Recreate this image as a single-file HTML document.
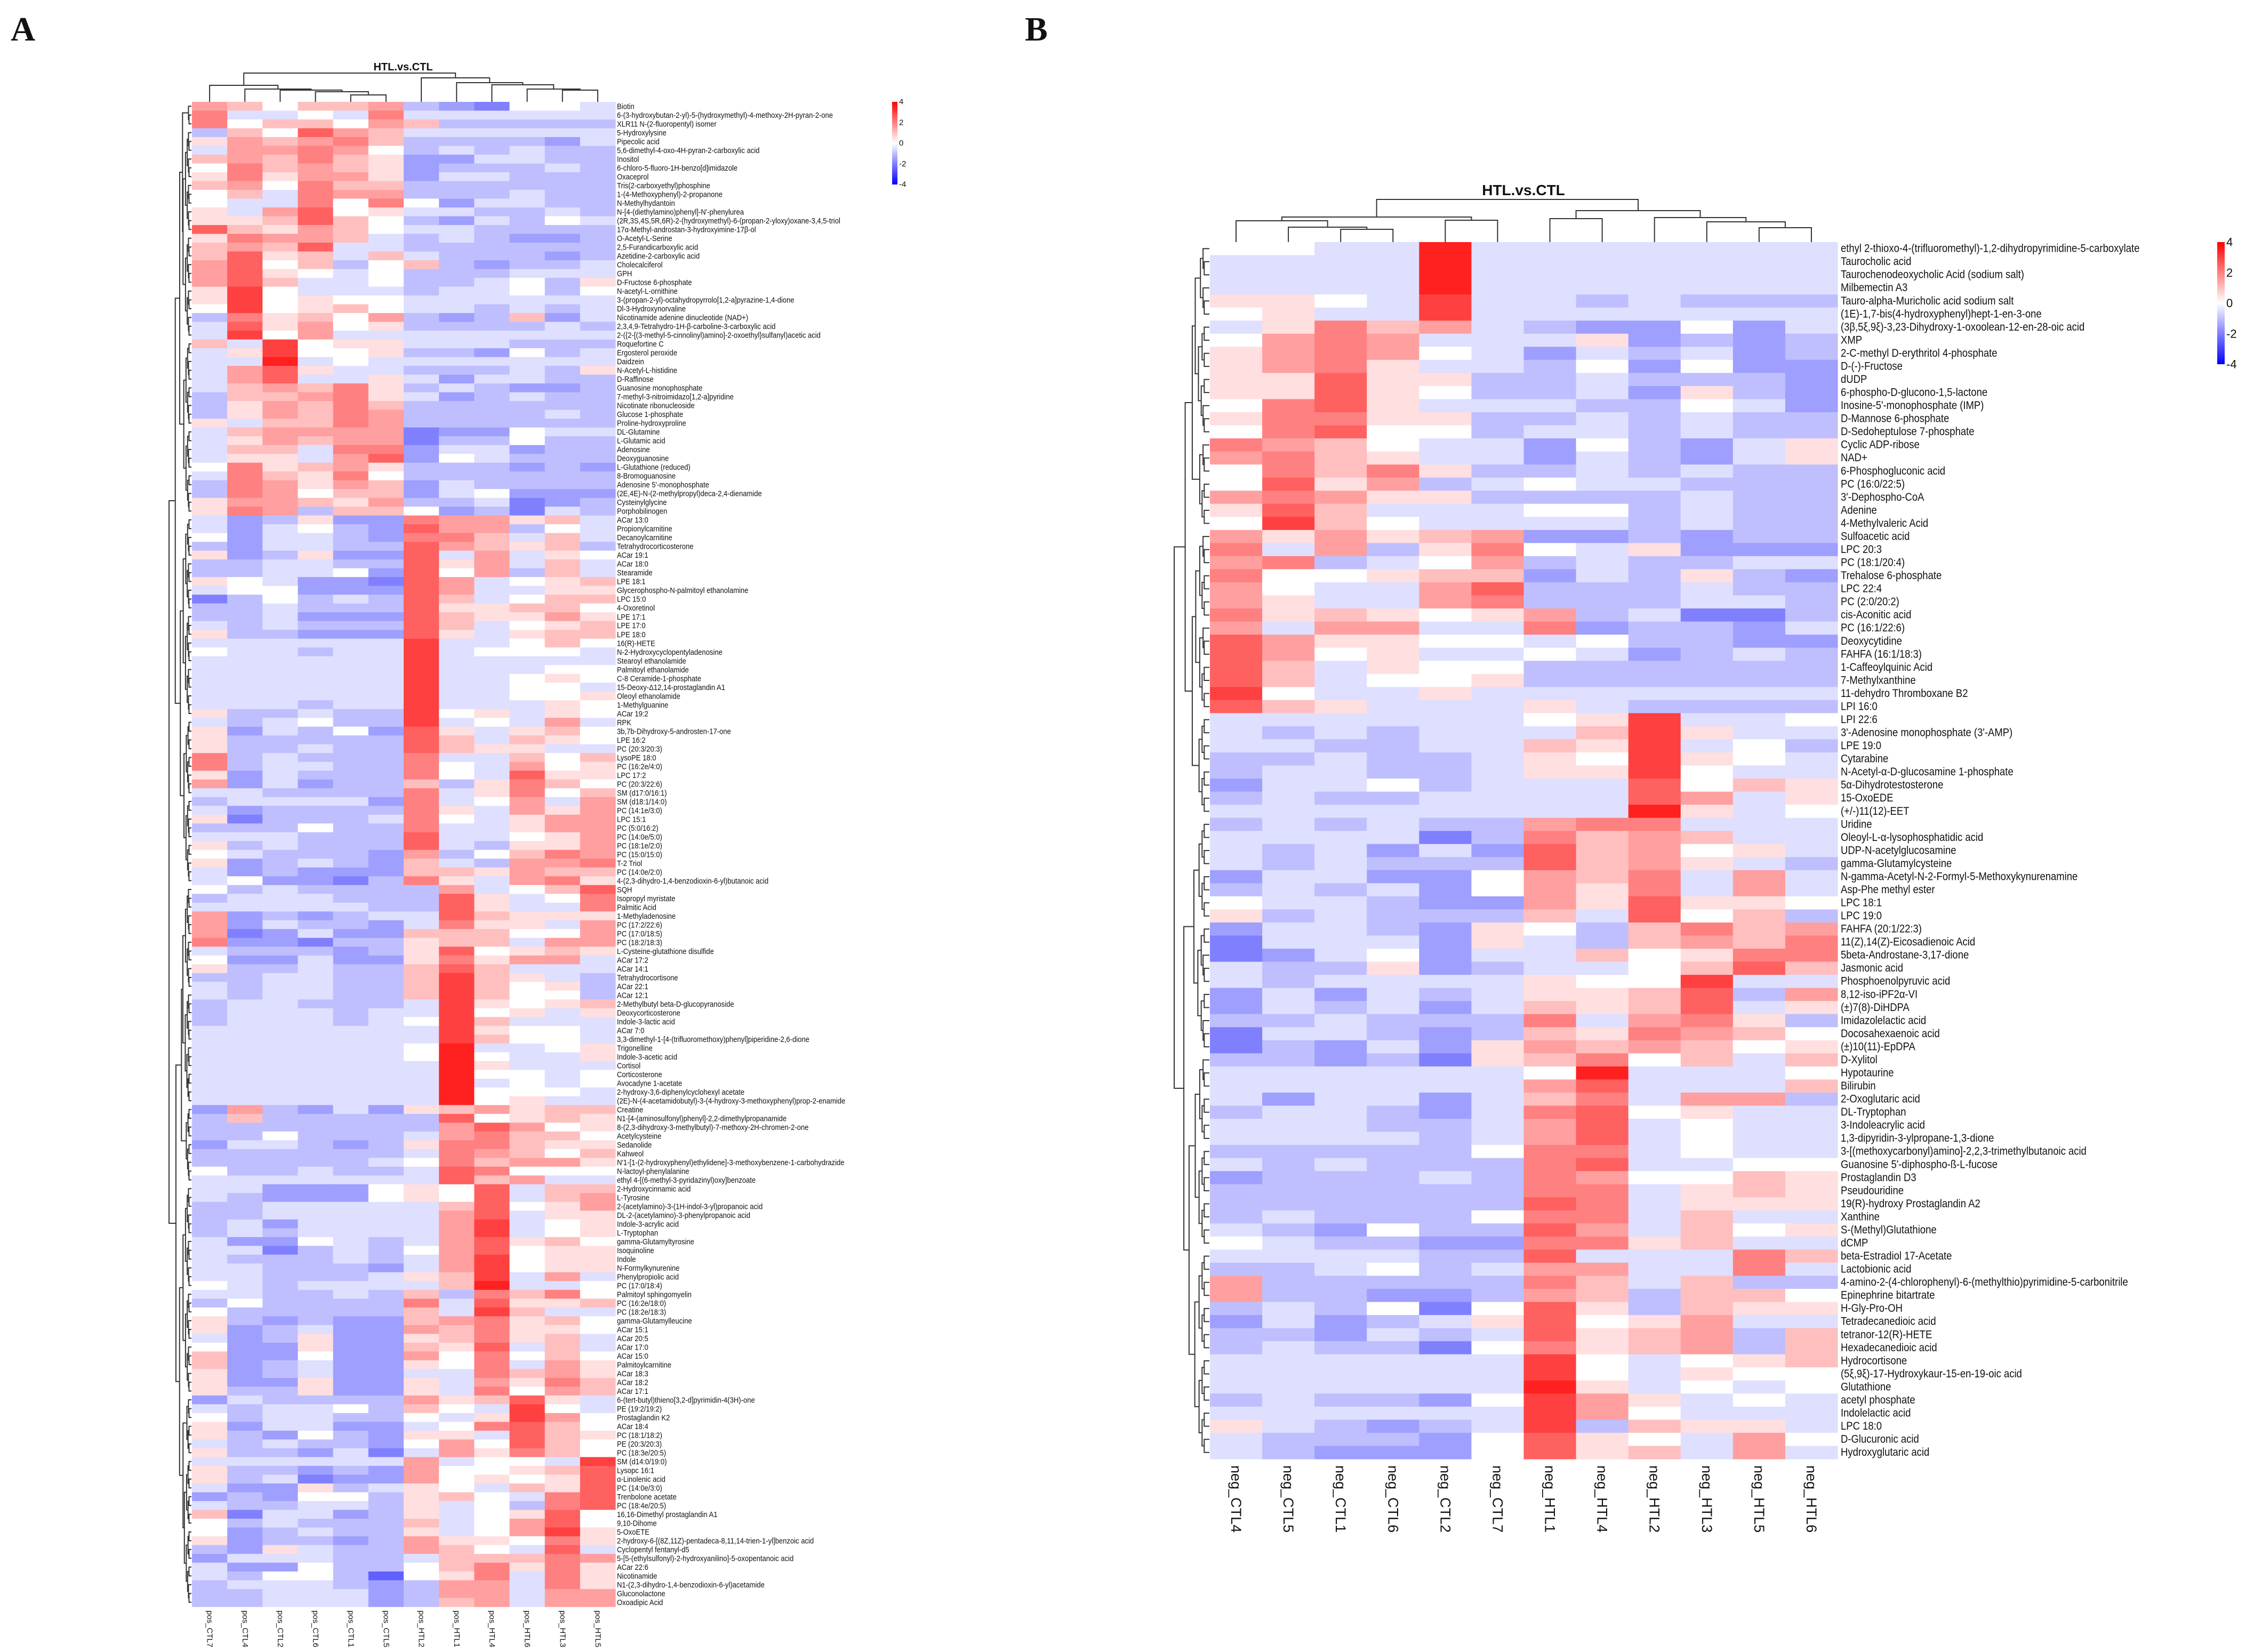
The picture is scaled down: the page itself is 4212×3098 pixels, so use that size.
<!DOCTYPE html>
<html><head><meta charset="utf-8"><title>HTL.vs.CTL heatmaps</title>
<style>
html,body{margin:0;padding:0;background:#fff;}
svg{display:block;}
text{font-family:"Liberation Sans",Arial,sans-serif;fill:#111;}
</style></head>
<body>
<svg id="fig" width="4212" height="3098" viewBox="0 0 4212 3098" xmlns="http://www.w3.org/2000/svg">
<rect width="4212" height="3098" fill="#fff"/>
<text x="20" y="76" font-family="Liberation Serif,serif" font-weight="bold" font-size="64" style="font-family:'Liberation Serif',serif">A</text>
<text x="1922" y="76" font-weight="bold" font-size="64" style="font-family:'Liberation Serif',serif">B</text>
<text x="756" y="132" text-anchor="middle" font-weight="bold" font-size="20">HTL.vs.CTL</text>
<text x="2857" y="366" text-anchor="middle" font-weight="bold" font-size="28">HTL.vs.CTL</text>
<defs>
<linearGradient id="lg" x1="0" y1="1" x2="0" y2="0">
<stop offset="0" stop-color="#0000ff"/><stop offset="0.5" stop-color="#ffffff"/><stop offset="1" stop-color="#ff0000"/>
</linearGradient>
</defs>
<g id="gA"></g>
<g id="gB"></g>
</svg>
<script>
const colsA=["pos_CTL7","pos_CTL4","pos_CTL2","pos_CTL6","pos_CTL1","pos_CTL5","pos_HTL2","pos_HTL1","pos_HTL4","pos_HTL6","pos_HTL3","pos_HTL5"];
const colsB=["neg_CTL4","neg_CTL5","neg_CTL1","neg_CTL6","neg_CTL2","neg_CTL7","neg_HTL1","neg_HTL4","neg_HTL2","neg_HTL3","neg_HTL5","neg_HTL6"];
const legendTicks=[4,2,0,-2,-4];
const colTreeA=[54,[31,0,[24,1,[22,2,[19,3,[13,4,5]]]]],[45,6,[36,7,[32,8,[24,9,[22,10,11]]]]]];
const colTreeB=[80,[47,[40,0,[28,1,[24,2,3]]],[41,4,5]],[59,[44,6,7],[46,8,[38,9,[27,10,11]]]]];
const rowBreaksA=[3,27,47,70,89,114,123,147,154,171];
const rowBreaksB=[6,15,22,36,44,52,62,77,85,93];
const rowsA=["Biotin","6-(3-hydroxybutan-2-yl)-5-(hydroxymethyl)-4-methoxy-2H-pyran-2-one","XLR11 N-(2-fluoropentyl) isomer","5-Hydroxylysine","Pipecolic acid","5,6-dimethyl-4-oxo-4H-pyran-2-carboxylic acid","Inositol","6-chloro-5-fluoro-1H-benzo[d]imidazole","Oxaceprol","Tris(2-carboxyethyl)phosphine","1-(4-Methoxyphenyl)-2-propanone","N-Methylhydantoin","N-[4-(diethylamino)phenyl]-N'-phenylurea","(2R,3S,4S,5R,6R)-2-(hydroxymethyl)-6-(propan-2-yloxy)oxane-3,4,5-triol","17\u03b1-Methyl-androstan-3-hydroxyimine-17\u03b2-ol","O-Acetyl-L-Serine","2,5-Furandicarboxylic acid","Azetidine-2-carboxylic acid","Cholecalciferol","GPH","D-Fructose 6-phosphate","N-acetyl-L-ornithine","3-(propan-2-yl)-octahydropyrrolo[1,2-a]pyrazine-1,4-dione","Dl-3-Hydroxynorvaline","Nicotinamide adenine dinucleotide (NAD+)","2,3,4,9-Tetrahydro-1H-\u03b2-carboline-3-carboxylic acid","2-({2-[(3-methyl-5-cinnolinyl)amino]-2-oxoethyl}sulfanyl)acetic acid","Roquefortine C","Ergosterol peroxide","Daidzein","N-Acetyl-L-histidine","D-Raffinose","Guanosine monophosphate","7-methyl-3-nitroimidazo[1,2-a]pyridine","Nicotinate ribonucleoside","Glucose 1-phosphate","Proline-hydroxyproline","DL-Glutamine","L-Glutamic acid","Adenosine","Deoxyguanosine","L-Glutathione (reduced)","8-Bromoguanosine","Adenosine 5'-monophosphate","(2E,4E)-N-(2-methylpropyl)deca-2,4-dienamide","Cysteinylglycine","Porphobilinogen","ACar 13:0","Propionylcarnitine","Decanoylcarnitine","Tetrahydrocorticosterone","ACar 19:1","ACar 18:0","Stearamide","LPE 18:1","Glycerophospho-N-palmitoyl ethanolamine","LPC 15:0","4-Oxoretinol","LPE 17:1","LPE 17:0","LPE 18:0","16(R)-HETE","N-2-Hydroxycyclopentyladenosine","Stearoyl ethanolamide","Palmitoyl ethanolamide","C-8 Ceramide-1-phosphate","15-Deoxy-\u039412,14-prostaglandin A1","Oleoyl ethanolamide","1-Methylguanine","ACar 19:2","RPK","3b,7b-Dihydroxy-5-androsten-17-one","LPE 16:2","PC (20:3/20:3)","LysoPE 18:0","PC (16:2e/4:0)","LPC 17:2","PC (20:3/22:6)","SM (d17:0/16:1)","SM (d18:1/14:0)","PC (14:1e/3:0)","LPC 15:1","PC (5:0/16:2)","PC (14:0e/5:0)","PC (18:1e/2:0)","PC (15:0/15:0)","T-2 Triol","PC (14:0e/2:0)","4-(2,3-dihydro-1,4-benzodioxin-6-yl)butanoic acid","SQH","Isopropyl myristate","Palmitic Acid","1-Methyladenosine","PC (17:2/22:6)","PC (17:0/18:5)","PC (18:2/18:3)","L-Cysteine-glutathione disulfide","ACar 17:2","ACar 14:1","Tetrahydrocortisone","ACar 22:1","ACar 12:1","2-Methylbutyl beta-D-glucopyranoside","Deoxycorticosterone","Indole-3-lactic acid","ACar 7:0","3,3-dimethyl-1-[4-(trifluoromethoxy)phenyl]piperidine-2,6-dione","Trigonelline","Indole-3-acetic acid","Cortisol","Corticosterone","Avocadyne 1-acetate","2-hydroxy-3,6-diphenylcyclohexyl acetate","(2E)-N-(4-acetamidobutyl)-3-(4-hydroxy-3-methoxyphenyl)prop-2-enamide","Creatine","N1-[4-(aminosulfonyl)phenyl]-2,2-dimethylpropanamide","8-(2,3-dihydroxy-3-methylbutyl)-7-methoxy-2H-chromen-2-one","Acetylcysteine","Sedanolide","Kahweol","N'1-[1-(2-hydroxyphenyl)ethylidene]-3-methoxybenzene-1-carbohydrazide","N-lactoyl-phenylalanine","ethyl 4-[(6-methyl-3-pyridazinyl)oxy]benzoate","2-Hydroxycinnamic acid","L-Tyrosine","2-(acetylamino)-3-(1H-indol-3-yl)propanoic acid","DL-2-(acetylamino)-3-phenylpropanoic acid","Indole-3-acrylic acid","L-Tryptophan","gamma-Glutamyltyrosine","Isoquinoline","Indole","N-Formylkynurenine","Phenylpropiolic acid","PC (17:0/18:4)","Palmitoyl sphingomyelin","PC (16:2e/18:0)","PC (18:2e/18:3)","gamma-Glutamylleucine","ACar 15:1","ACar 20:5","ACar 17:0","ACar 15:0","Palmitoylcarnitine","ACar 18:3","ACar 18:2","ACar 17:1","6-(tert-butyl)thieno[3,2-d]pyrimidin-4(3H)-one","PE (19:2/19:2)","Prostaglandin K2","ACar 18:4","PC (18:1/18:2)","PE (20:3/20:3)","PC (18:3e/20:5)","SM (d14:0/19:0)","Lysopc 16:1","\u03b1-Linolenic acid","PC (14:0e/3:0)","Trenbolone acetate","PC (18:4e/20:5)","16,16-Dimethyl prostaglandin A1","9,10-Dihome","5-OxoETE","2-hydroxy-6-[(8Z,11Z)-pentadeca-8,11,14-trien-1-yl]benzoic acid","Cyclopentyl fentanyl-d5","5-[5-(ethylsulfonyl)-2-hydroxyanilino]-5-oxopentanoic acid","ACar 22:6","Nicotinamide","N1-(2,3-dihydro-1,4-benzodioxin-6-yl)acetamide","Gluconolactone","Oxoadipic Acid"];
const valsA=[
[1.5,1,0,1,1,1.5,-1,-1.5,-2,0,0,-0.5],
[2,-0.5,-0.5,0,-0.5,2,-0.5,-0.5,-0.5,-0.5,-0.5,-0.5],
[2,0,1,1,0,1.5,1,-1,-1,-1,-1,-1],
[-1,1,0,2.5,1.5,1,-0.5,-0.5,-0.5,-0.5,-0.5,-0.5],
[0.5,1.5,1,1.5,2,1,-1,-1,-1,-1,-1.5,-0.5],
[-0.5,1.5,1.5,2,1.5,0,-1,-0.5,-1,-0.5,-1,-1],
[1,1.5,1,2,1,0.5,-1.5,-1.5,-0.5,-0.5,-1,-1],
[0,2,1,1.5,1,0.5,-1.5,-1,-1,-1,-0.5,-1],
[0.5,2,0.5,1.5,1.5,0.5,-1.5,-0.5,-0.5,-1,-1,-1],
[1,1.5,0,2,1,1,-1,-1,-1,-1,-1,-1],
[0,1,-0.5,2,1.5,1.5,-1,-1,-1,-0.5,-1,-1],
[0,-0.5,-0.5,2,0,2,0,-1.5,-0.5,-0.5,-1,-1],
[0.5,-0.5,1.5,2.5,0,0.5,-0.5,-0.5,-1,-1,-0.5,-1],
[0.5,0.5,1,2.5,1,0,-1,-1.5,-0.5,-1,0,-0.5],
[2.5,1,0.5,1.5,1,0,-0.5,-0.5,-1,-1,-1,-1],
[0.5,2,1.5,1.5,1,-0.5,-1,-0.5,-1,-1.5,-1.5,-1],
[1,1.5,1,2.5,-0.5,-0.5,-1,-1,-1,-1,-1,-1],
[1,2.5,0.5,1,-0.5,1,-0.5,-1,-1,-1,-1.5,-1],
[1.5,2.5,0,1,-1,0,1,-1,-1.5,-1,-1,-0.5],
[1.5,2.5,0.5,0,-0.5,0,-1,-1,-1,-0.5,-0.5,-0.5],
[1.5,2.5,1,-0.5,-0.5,0,-1,-1,-0.5,0,-1,0.5],
[0.5,3,0,-0.5,-0.5,-0.5,-1,-0.5,-0.5,0,-1,0],
[0.5,3,0,0.5,0,0,-0.5,-0.5,-0.5,-0.5,-0.5,-0.5],
[0,3,0,0.5,1,0,-0.5,-0.5,-1,-0.5,-1,-0.5],
[-1,2,0.5,1,0,1.5,-1,-1.5,-1,1,-1.5,-0.5],
[-0.5,2.5,0.5,1.5,0,0.5,-1,-1,-1,-1,-0.5,-1],
[-0.5,3,0,1.5,-0.5,-0.5,-0.5,-0.5,-0.5,-0.5,-0.5,-0.5],
[1,-0.5,3,0,0.5,0.5,-0.5,-0.5,-0.5,-1,-1,-1],
[-0.5,0.5,3,0,0,0.5,-1,-1,-1.5,0,-1,-0.5],
[-0.5,-0.5,3.5,-0.5,0,-0.5,-0.5,-0.5,-0.5,-0.5,-0.5,-0.5],
[-0.5,1.5,2.5,0.5,-0.5,-0.5,-1,-1,-1,-0.5,-1,0.5],
[-0.5,1.5,2.5,-0.5,-0.5,0.5,-0.5,-1.5,-0.5,-0.5,-1,-1],
[-0.5,1,1.5,1,2,0.5,-1,-0.5,-1,-1.5,-1.5,-1],
[-1,1,1,1.5,2,0.5,-0.5,-1.5,-1,-0.5,-1,-1],
[-1,0.5,1.5,1,2,1,-1,-1,-1,-1,-1,-1],
[-1,0.5,1.5,1,2,1.5,-1,-1,-1,-1,-0.5,-1],
[0.5,-0.5,1,1,2,1.5,-1,-1,-1,-1,-1,-1],
[-0.5,1,1.5,1.5,1.5,1.5,-2,-1.5,-1.5,0,-0.5,-0.5],
[-0.5,0.5,1.5,1,1.5,1.5,-2,-1,-1,0,-1,-1],
[-0.5,1,1,-0.5,2,2,-1.5,-0.5,-0.5,-1.5,-1,-1],
[-0.5,0.5,0.5,-0.5,1.5,2.5,-1.5,0,-0.5,-1,-1,-1],
[0,2,0.5,1,1.5,0.5,-1,-1,-1,-1.5,-1,-1.5],
[-0.5,2,1,0.5,2,0,-1,-1,-1,-1,-1,-1],
[-1,2,1.5,0.5,1.5,1,-1.5,-0.5,-1,-1,-1,-1],
[-1,2,1.5,0,1,1,-1.5,-0.5,0,-1.5,-1.5,-1.5],
[0.5,1.5,1.5,1,0.5,1.5,-1,-1,-0.5,-2,-1.5,-1],
[0.5,2,1.5,-1,1,1,0,-1.5,-1,-2,-0.5,-1],
[-0.5,-1.5,-1,0.5,-1.5,-1.5,2,1.5,1.5,0.5,1,-0.5],
[-0.5,-1.5,-0.5,0,-1,-1.5,2.5,1.5,1.5,-1,0,-0.5],
[0,-1.5,-0.5,-0.5,-1,-1.5,2,2,1,-0.5,1,-0.5],
[-1,-1.5,-0.5,-0.5,-1,-1,2.5,1.5,1,0.5,1,-1],
[0.5,-1.5,-1,0.5,-1.5,-1.5,2.5,-0.5,1.5,-0.5,0.5,0],
[-1,-1,-0.5,-0.5,-1,-1,2.5,0.5,1.5,-0.5,1,-0.5],
[-1,-1,-0.5,-0.5,0,-1.5,2.5,0,1.5,-1,1,-0.5],
[0.5,0,-0.5,-1.5,-1.5,-2,2.5,1.5,-0.5,0,0.5,1],
[-0.5,0,0,-1.5,-1.5,-1.5,2.5,1.5,-0.5,-0.5,0.5,0.5],
[-2,-1,0,-1,-0.5,-1,2.5,1,-0.5,0,1,1],
[-1,-1,-0.5,-1,-1,-1,2.5,0.5,0.5,1,1,0],
[-1,-1,-0.5,-1.5,-1.5,-1.5,2.5,1,0.5,0.5,1.5,0.5],
[-0.5,-1,-0.5,-1,-1,-1,2.5,1,-0.5,0,0.5,1],
[0.5,-1,-1,-1.5,-1.5,-1.5,2.5,0.5,-0.5,0.5,1,1],
[-0.5,-0.5,-0.5,-0.5,-0.5,-0.5,3,-0.5,-0.5,0,1,0],
[0,-0.5,-0.5,-1,-0.5,-0.5,3,-0.5,0,0,0,-0.5],
[-0.5,-0.5,-0.5,-0.5,-0.5,-0.5,3,-0.5,-0.5,-0.5,-0.5,-0.5],
[-0.5,-0.5,-0.5,-0.5,-0.5,-0.5,3,-0.5,-0.5,-0.5,0,0],
[-0.5,-0.5,-0.5,-0.5,-0.5,-0.5,3,-0.5,-0.5,0,0.5,0],
[-0.5,-0.5,-0.5,-0.5,-0.5,-0.5,3,-0.5,-0.5,0,0,-0.5],
[-0.5,-0.5,-0.5,-0.5,-0.5,-0.5,3,-0.5,-0.5,0,0,0.5],
[-0.5,-0.5,-0.5,-1,-0.5,-0.5,3,-0.5,-0.5,-0.5,0.5,0],
[0.5,-1,-1,-0.5,-1,-1,3,0,0.5,-0.5,0.5,0],
[-0.5,-1,-0.5,0,-1,-1,3,-0.5,0,-0.5,1.5,-0.5],
[0.5,-1.5,-0.5,-1,0,-1.5,2.5,0.5,-0.5,0.5,1,0],
[0.5,-1,-1,-1,-1,-1,2.5,1,-0.5,1,0.5,0],
[0.5,-1,-1,-0.5,-1,-1,2.5,1,0.5,0.5,-0.5,-0.5],
[2,-1,-0.5,-1,-1,-1,2,-0.5,-0.5,1,0,1],
[2,-1,-0.5,-0.5,-1,-1,2,0,-0.5,1.5,0,0.5],
[0.5,-1.5,-0.5,-1,-1,-1,2,0,-0.5,2.5,0.5,0.5],
[1.5,-1.5,-0.5,-1.5,-1,-1,1,-1,0.5,2,1,0],
[-0.5,-0.5,-1,-1,-1,-1,2,-0.5,0.5,2,0,1],
[-1,-0.5,-0.5,-0.5,-0.5,-1.5,2,-0.5,0,1.5,-0.5,1.5],
[-0.5,-1.5,-1,-1,-1,-1,2,0.5,-0.5,1.5,0.5,1.5],
[0.5,-2,-1,-1,-1,-0.5,2,0,-0.5,0.5,1.5,1.5],
[-1,-1,-1,0,-1,-1,2,-0.5,-0.5,0.5,1.5,1.5],
[-0.5,-0.5,-0.5,-1,-1,-1,2.5,-0.5,-0.5,0,0.5,1.5],
[0.5,-1,-0.5,-1,-1,-1,2.5,-0.5,-1,0.5,0.5,1.5],
[0,-0.5,-1,-1,-1,-1.5,1.5,-1,0,1,2,1.5],
[0.5,-1.5,-1,-0.5,-1,-1.5,1,-0.5,-1,1.5,1.5,2],
[-0.5,-1.5,-1,-1.5,-1.5,-1.5,1,1,0.5,1.5,1,1],
[-0.5,0,-1.5,-1.5,-2,-1,2,0.5,-0.5,1.5,2,0.5],
[0,-1,-0.5,-1,-1,-1,-1,1.5,-0.5,0,1,2.5],
[-1,-0.5,-0.5,-0.5,-1,-1,-1,2.5,0.5,-0.5,0,2],
[-0.5,-0.5,-0.5,-0.5,-0.5,-1,-1,2.5,0.5,-0.5,-0.5,2],
[1.5,-1.5,-1,-1.5,-1,-0.5,-0.5,2.5,1,0.5,0.5,0.5],
[1.5,-1.5,-0.5,-1,-1,-1.5,-0.5,2,0.5,0.5,-0.5,1.5],
[1.5,-2,-1.5,-0.5,-1.5,-1.5,1,1,1,0,0,1.5],
[2,-1.5,-1.5,-2,-1,-1,0.5,1,1,-0.5,1.5,1.5],
[-0.5,-1,-1,-1,-1.5,-1,0.5,2.5,0,0.5,1,0.5],
[0,-1.5,-1.5,-0.5,-1.5,-1.5,0.5,2,0.5,1.5,1.5,-0.5],
[0.5,-1,-1,-0.5,-1,-1,1,2.5,1,-0.5,-0.5,-0.5],
[-1,-1,-0.5,-0.5,-1,-1,1,3,1,0.5,-0.5,-1],
[-0.5,-1,-0.5,-0.5,-1,-1,1,3,1,0,0.5,-1],
[-0.5,-1,-0.5,-0.5,-1,-1,1,3,1,0,0,-1],
[-1,-0.5,-0.5,-1,-1,-1,-0.5,3,0.5,0,0.5,1],
[-1,-0.5,-0.5,-0.5,-1,-0.5,-0.5,3,0,0.5,-0.5,0.5],
[-1,-0.5,-0.5,-0.5,-1,-0.5,0,3,1,-0.5,-0.5,-0.5],
[-0.5,-0.5,-0.5,-0.5,-0.5,-0.5,-0.5,3,0.5,0,0,-0.5],
[-0.5,-0.5,-0.5,-0.5,-0.5,-0.5,-0.5,3,1,0,0,-0.5],
[-0.5,-0.5,-0.5,-0.5,-0.5,-0.5,0,3.5,-0.5,-0.5,0,0.5],
[-0.5,-0.5,-0.5,-0.5,-0.5,-0.5,0,3.5,0,-0.5,-0.5,0.5],
[-0.5,-0.5,-0.5,-0.5,-0.5,-0.5,-0.5,3.5,0.5,-0.5,-0.5,-0.5],
[-0.5,-0.5,-0.5,-0.5,-0.5,-0.5,-0.5,3.5,0,0,-0.5,0],
[-0.5,-0.5,-0.5,-0.5,-0.5,-0.5,-0.5,3.5,-0.5,0,-0.5,0],
[-0.5,-0.5,-0.5,-0.5,-0.5,-0.5,-0.5,3.5,0,0,0,-0.5],
[-0.5,-0.5,-0.5,-0.5,-0.5,-0.5,-0.5,3.5,0,0.5,-0.5,-0.5],
[-1.5,1.5,-1,-1.5,-0.5,-1.5,0.5,1,1.5,0.5,1,1],
[-1,1,-1,-1,-1,-1,-1,2.5,0,0.5,1,0.5],
[-1,-1,-1,-1,-1,-1,-1,1.5,2.5,1.5,0,0.5],
[-1,-1,0,-1,-1,-1,-0.5,1.5,2,1,1,0],
[-1.5,-0.5,-0.5,-1,-1.5,-1,0.5,2,2,1,0.5,0.5],
[-1,-1,-1,-1,-1,-1,-0.5,2,1.5,1,0,1],
[-1,-1,-1,-1,-1,-0.5,0,2,1,1.5,1.5,0.5],
[0,-1,-1,-0.5,-1,-1,-0.5,2.5,2,0,0,0],
[-0.5,-0.5,-0.5,-0.5,-0.5,-0.5,-0.5,2.5,1,1.5,-0.5,-0.5],
[-0.5,-0.5,-1.5,-1.5,-1.5,0,0.5,0,2.5,-0.5,1,1],
[-0.5,-1,-1.5,-1.5,-1.5,0,0.5,0,2.5,-0.5,1,1.5],
[-1,-1,-0.5,-0.5,-0.5,-0.5,-0.5,1,2.5,0,0.5,1.5],
[-1,-1,-0.5,-0.5,-0.5,-0.5,-0.5,1.5,2.5,-0.5,0.5,0.5],
[-1,-0.5,-1.5,-0.5,-0.5,-0.5,-0.5,1.5,3,-0.5,0,0.5],
[-1,-0.5,-1,-0.5,-0.5,-0.5,-0.5,1.5,3,-0.5,0,0.5],
[-0.5,-1.5,-1.5,0,-0.5,-1,-0.5,1.5,2.5,0.5,1,0],
[-0.5,-0.5,-2,-1,-0.5,-1,0,1.5,2.5,0,0.5,0.5],
[-0.5,-1,-1,-1,-0.5,-1,-0.5,1.5,3,0,0.5,0.5],
[-0.5,-0.5,-1,-1,-1,-1.5,-0.5,1.5,3,0,0.5,0.5],
[-0.5,-0.5,-1,-1,-1,-0.5,0.5,1,3,-0.5,1.5,-0.5],
[0,-0.5,-1,-0.5,-0.5,-0.5,-0.5,1,3.5,-0.5,-0.5,0],
[-0.5,-0.5,-1,-1,-0.5,-1,1,-1,2,1,2,0],
[-1,0,-1,-1,-1,-1,2,-0.5,2.5,0.5,0.5,1],
[0,-1,-1,-1,-1,-1,1,-0.5,3,1,-0.5,-0.5],
[0.5,-1,-1.5,-1,-1.5,-1.5,1,1.5,2,0.5,1,0],
[0.5,-1.5,-1,-0.5,-1.5,-1.5,1.5,1,2,0.5,0.5,0],
[-0.5,-1.5,-1,0.5,-1.5,-1.5,0.5,1,2,0.5,1,-0.5],
[0,-1.5,-1.5,0.5,-1.5,-1.5,1,0.5,2.5,-0.5,1,-0.5],
[1,-1.5,-1.5,0,-1.5,-1.5,1.5,0,2,0,1,0],
[1,-1.5,-1,-0.5,-1.5,-1.5,0.5,0,2,-0.5,1.5,0.5],
[0.5,-1.5,-1,-0.5,-1.5,-1.5,-0.5,-0.5,2,1,1.5,0.5],
[0.5,-1.5,-1.5,0.5,-1.5,-1.5,0.5,-0.5,1.5,0.5,2,1],
[0.5,-1,-1,0.5,-1.5,-1.5,0.5,-0.5,2,0,1.5,1],
[-1.5,-0.5,-1,-1,-1,-1,1.5,0.5,1,2.5,0.5,-0.5],
[-0.5,-1,-0.5,-0.5,0,-1,1,0,-0.5,3,0,-0.5],
[0,-1,-0.5,-0.5,-1,-1,0,-0.5,0.5,3,1.5,0],
[0.5,-1.5,-0.5,-0.5,-1.5,-1.5,-0.5,0,2,2.5,1,0],
[0.5,-1,-1.5,0,-1,-1.5,0.5,0.5,-0.5,2.5,1,0.5],
[-0.5,-1,-0.5,-1,-1,-1.5,0,1.5,0,2.5,1,0],
[0.5,-1,-1,-1.5,-0.5,-2,-0.5,1.5,0.5,2,1,0],
[-0.5,-0.5,-0.5,-0.5,-0.5,-0.5,1.5,-0.5,0,0,-0.5,3],
[0.5,-1,-1,-1.5,-1,-1.5,1.5,0,0,0.5,1,2.5],
[0.5,-1,-0.5,-2,-1.5,-1.5,1.5,0,0.5,0,0.5,2.5],
[-0.5,-1.5,-1.5,0.5,-1,-0.5,0.5,0,-0.5,1,0.5,2.5],
[-1.5,-1,-1.5,0,0,-1,0.5,1,0,-0.5,2,2.5],
[-0.5,-1,-1,-0.5,-0.5,-1,0.5,-0.5,0,-1,2,2.5],
[1,-2,-0.5,-0.5,-1.5,-1,0.5,-0.5,0,0.5,2.5,0],
[0,-1,-0.5,-1,-1,-1,1,-0.5,0,1.5,2.5,0],
[0,-1.5,-1,-0.5,-1,-1,0.5,-0.5,0,1.5,3,0.5],
[0.5,-1.5,-1,-1,-1.5,-1,1.5,0.5,0.5,0,2,0.5],
[-1,-1.5,0.5,-0.5,-1,-1,1.5,1,0,-0.5,2.5,-0.5],
[-1.5,-0.5,-0.5,-0.5,-1,-1,-0.5,1,1,1,2,1.5],
[-0.5,-1.5,-1.5,0,-1,-1,0,1,2,0.5,2,0.5],
[-0.5,-1,0,0,-1,-2.5,0,0.5,2,-0.5,2,0.5],
[-1,-0.5,-0.5,-0.5,-1,-1.5,-1,1.5,1.5,-0.5,2,0.5],
[-1,-1,-0.5,-0.5,-0.5,-1.5,-1,1.5,1.5,-0.5,1.5,1.5],
[-1,-1,-0.5,-0.5,-0.5,-1.5,-1,1,1.5,-0.5,1.5,1.5]
];
const rowsB=["ethyl 2-thioxo-4-(trifluoromethyl)-1,2-dihydropyrimidine-5-carboxylate","Taurocholic acid","Taurochenodeoxycholic Acid (sodium salt)","Milbemectin A3","Tauro-alpha-Muricholic acid sodium salt","(1E)-1,7-bis(4-hydroxyphenyl)hept-1-en-3-one","(3\u03b2,5\u03be,9\u03be)-3,23-Dihydroxy-1-oxoolean-12-en-28-oic acid","XMP","2-C-methyl D-erythritol 4-phosphate","D-(-)-Fructose","dUDP","6-phospho-D-glucono-1,5-lactone","Inosine-5'-monophosphate (IMP)","D-Mannose 6-phosphate","D-Sedoheptulose 7-phosphate","Cyclic ADP-ribose","NAD+","6-Phosphogluconic acid","PC (16:0/22:5)","3'-Dephospho-CoA","Adenine","4-Methylvaleric Acid","Sulfoacetic acid","LPC 20:3","PC (18:1/20:4)","Trehalose 6-phosphate","LPC 22:4","PC (2:0/20:2)","cis-Aconitic acid","PC (16:1/22:6)","Deoxycytidine","FAHFA (16:1/18:3)","1-Caffeoylquinic Acid","7-Methylxanthine","11-dehydro Thromboxane B2","LPI 16:0","LPI 22:6","3'-Adenosine monophosphate (3'-AMP)","LPE 19:0","Cytarabine","N-Acetyl-\u03b1-D-glucosamine 1-phosphate","5\u03b1-Dihydrotestosterone","15-OxoEDE","(+/-)11(12)-EET","Uridine","Oleoyl-L-\u03b1-lysophosphatidic acid","UDP-N-acetylglucosamine","gamma-Glutamylcysteine","N-gamma-Acetyl-N-2-Formyl-5-Methoxykynurenamine","Asp-Phe methyl ester","LPC 18:1","LPC 19:0","FAHFA (20:1/22:3)","11(Z),14(Z)-Eicosadienoic Acid","5beta-Androstane-3,17-dione","Jasmonic acid","Phosphoenolpyruvic acid","8,12-iso-iPF2\u03b1-VI","(\u00b1)7(8)-DiHDPA","Imidazolelactic acid","Docosahexaenoic acid","(\u00b1)10(11)-EpDPA","D-Xylitol","Hypotaurine","Bilirubin","2-Oxoglutaric acid","DL-Tryptophan","3-Indoleacrylic acid","1,3-dipyridin-3-ylpropane-1,3-dione","3-[(methoxycarbonyl)amino]-2,2,3-trimethylbutanoic acid","Guanosine 5'-diphospho-\u00df-L-fucose","Prostaglandin D3","Pseudouridine","19(R)-hydroxy Prostaglandin A2","Xanthine","S-(Methyl)Glutathione","dCMP","beta-Estradiol 17-Acetate","Lactobionic acid","4-amino-2-(4-chlorophenyl)-6-(methylthio)pyrimidine-5-carbonitrile","Epinephrine bitartrate","H-Gly-Pro-OH","Tetradecanedioic acid","tetranor-12(R)-HETE","Hexadecanedioic acid","Hydrocortisone","(5\u03be,9\u03be)-17-Hydroxykaur-15-en-19-oic acid","Glutathione","acetyl phosphate","Indolelactic acid","LPC 18:0","D-Glucuronic acid","Hydroxyglutaric acid"];
const valsB=[
[0,0,-0.5,-0.5,3.5,-0.5,-0.5,-0.5,-0.5,-0.5,-0.5,-0.5],
[-0.5,-0.5,-0.5,-0.5,3.5,-0.5,-0.5,-0.5,-0.5,-0.5,-0.5,-0.5],
[-0.5,-0.5,-0.5,-0.5,3.5,-0.5,-0.5,-0.5,-0.5,-0.5,-0.5,-0.5],
[-0.5,-0.5,-0.5,-0.5,3.5,-0.5,-0.5,-0.5,-0.5,-0.5,-0.5,-0.5],
[0.5,0.5,0,-0.5,3,-0.5,-0.5,-1,-0.5,-1,-1,-1],
[0,0.5,-0.5,-0.5,3,-0.5,-0.5,-0.5,-0.5,-0.5,-0.5,-0.5],
[-0.5,0.5,2,1,1.5,-0.5,-1,-1.5,-1.5,0,-1.5,-0.5],
[0,1.5,2,1.5,-0.5,-0.5,-0.5,0.5,-1.5,-1,-1.5,-1],
[0.5,1.5,2,1.5,0,-0.5,-1.5,-0.5,-1,-0.5,-1.5,-1],
[0.5,1.5,2,0.5,-0.5,-0.5,-1,0,-1.5,0,-1.5,-1.5],
[0.5,0.5,2.5,0.5,0.5,-1,-1,-0.5,-1,-1,-1,-1.5],
[0.5,0.5,2.5,0.5,0,-1,-1,-0.5,-1.5,0.5,-1,-1.5],
[0,2,2.5,0.5,-0.5,-0.5,-0.5,-1,-1,0,-0.5,-1.5],
[0.5,2,2,0.5,0.5,-1,-1,-0.5,-1,-0.5,-1,-1],
[0,2,2.5,0,0,-1,-0.5,-0.5,-1,-0.5,-1,-1],
[2,1.5,1,0,-0.5,-0.5,-1.5,0,-1,-1.5,-0.5,0.5],
[1.5,2,1,0.5,-0.5,-0.5,-1.5,-0.5,-1,-1.5,-0.5,0.5],
[0,2,1,2,0.5,-1,-1,-0.5,-1,-0.5,-1,-1],
[0,2.5,0.5,1.5,-1,-0.5,0,-0.5,-0.5,-1,-1,-1],
[1.5,2,1.5,0.5,0.5,-1,-1,-1,-1,-0.5,-1,-1],
[0.5,2.5,1,-0.5,-0.5,-0.5,0,0,-1,-0.5,-1,-1],
[0,3,1,0,-0.5,-0.5,-0.5,-0.5,-1,-0.5,-1,-1],
[1.5,0.5,1.5,0.5,1,1.5,-1.5,-1.5,-1,-1.5,-1,-1],
[2,-0.5,1.5,-1,0.5,2,0,-0.5,0.5,-1.5,-1.5,-1.5],
[1.5,2,-1,-0.5,0,1.5,-1,-0.5,-1,-1,-0.5,-0.5],
[2,0,0,0.5,1,1,-1.5,-0.5,-1,0.5,-1,-1.5],
[1.5,0,-0.5,-0.5,1.5,2.5,-1,-1,-1,-0.5,-1,-1],
[1.5,0.5,-0.5,-0.5,1.5,2,-1,-1,-1,-0.5,-0.5,-1],
[2,0.5,1,0.5,0,0.5,1.5,-1,-0.5,-2,-2,-1],
[1.5,-0.5,1.5,1.5,-0.5,-0.5,2,-1.5,-1,-1,-1.5,-0.5],
[2.5,1.5,0.5,0.5,0,0,-0.5,0,-1,-1,-1.5,-1.5],
[2.5,1.5,0,0.5,-0.5,-0.5,0,-0.5,-1.5,-1,-0.5,-1],
[2.5,1,-0.5,0.5,0,0,-1,-1,-1,-1,-1,-1],
[2.5,1,-0.5,0,0,0.5,-1,-1,-1,-1,-1,-1],
[3,0,-0.5,-0.5,0.5,-0.5,-0.5,-0.5,-0.5,-0.5,-0.5,-0.5],
[2.5,1,0.5,-0.5,-0.5,-0.5,0.5,-0.5,-1,-1,-1,-1],
[-0.5,-0.5,-0.5,-0.5,-0.5,-0.5,0,0.5,3,-0.5,-0.5,0],
[-0.5,-1,-0.5,-1,-0.5,-0.5,-0.5,1,3,0.5,-0.5,-0.5],
[-0.5,-0.5,-1,-1,-0.5,-0.5,1,0.5,3,-0.5,0,-1],
[-1,-1,-0.5,-1,-1,-0.5,0.5,0,3,0.5,0,-0.5],
[-1,-0.5,-0.5,-1,-1,-0.5,0.5,0.5,3,0,-0.5,-0.5],
[-1.5,-0.5,-0.5,0,-1,-0.5,-0.5,-0.5,2.5,0,1,0.5],
[-1,-0.5,-1,-1,-0.5,-0.5,-0.5,-0.5,2.5,1.5,-0.5,0.5],
[-0.5,-0.5,-0.5,-0.5,-0.5,-0.5,-0.5,-0.5,3.5,0.5,-0.5,0],
[-1,-0.5,-1,-0.5,-1,-1,1.5,2,2,-0.5,-0.5,-0.5],
[-0.5,-0.5,-0.5,-0.5,-2,-1,2,1,1.5,1,-0.5,-0.5],
[-0.5,-1,-0.5,-1.5,-0.5,-1.5,2.5,1,1.5,0,0.5,-0.5],
[-0.5,-1,-0.5,-1,-1,-1,2.5,1,1.5,0.5,-0.5,-1],
[-1.5,-0.5,-0.5,-1.5,-1.5,0,1.5,1,2,-0.5,1.5,-0.5],
[-1,-0.5,-1,-0.5,-1.5,0,1.5,0.5,2,-0.5,1.5,-0.5],
[0,-0.5,-0.5,-1,-1.5,-1.5,1.5,0.5,2.5,0.5,0.5,0],
[0.5,-1,-0.5,-1,-1,-1,1,-0.5,2.5,0,1,-1],
[-1.5,-0.5,-0.5,-1,-1.5,0.5,0,-1,1,2,1,1.5],
[-2,-0.5,-0.5,-0.5,-1.5,0.5,-0.5,-1,1,1.5,1,2],
[-2,-1.5,-0.5,0,-1.5,-0.5,-0.5,1,0,0.5,2,2],
[-0.5,-1,-1,0.5,-1.5,-1,-0.5,-0.5,0,1,2.5,1],
[-0.5,-1,-0.5,-0.5,-0.5,-0.5,0.5,0,0,3,-0.5,-0.5],
[-1.5,-0.5,-1.5,-0.5,-1,-0.5,0.5,0.5,1,2.5,-1,1.5],
[-1.5,-0.5,-1,-0.5,-1.5,-0.5,1,0.5,1,2.5,-0.5,0.5],
[-1,-1,-0.5,-1,-1,-1,2,-0.5,1.5,2,0.5,-1],
[-2,-0.5,-0.5,-1,-1.5,-1,1,0.5,2,1.5,1,0],
[-2,-1,-1.5,-0.5,-1.5,0.5,1.5,1,1.5,1,0,0.5],
[-1,-1,-1.5,-1,-2,0.5,1,2,0,1,-0.5,1],
[-0.5,-0.5,-0.5,-0.5,-0.5,-0.5,0,3.5,-0.5,-0.5,-0.5,0],
[-0.5,-0.5,-0.5,-0.5,-0.5,-0.5,1.5,2.5,-0.5,-0.5,-0.5,1],
[-0.5,-1.5,-0.5,-0.5,-1.5,-0.5,1,2,-0.5,1.5,1.5,-1],
[-1,-0.5,-0.5,-1,-1.5,-0.5,2,2.5,0,0.5,-0.5,-0.5],
[-0.5,-0.5,-0.5,-1,-1,-0.5,1.5,2.5,-0.5,0,-0.5,-0.5],
[-0.5,-0.5,-0.5,-0.5,-1,-0.5,1.5,2.5,-0.5,0,-0.5,-0.5],
[-1,-1,-1,-1,-1,0,2,2,-0.5,0,-0.5,-0.5],
[-0.5,-1,-0.5,-1,-1,-1,2,2.5,-0.5,-0.5,0,0],
[-1.5,-1,-1,-1,-0.5,-1,2,1.5,0,0,1,0.5],
[-1,-1,-1,-1,-1,-1,2,2,-0.5,0.5,1,0.5],
[-1,-1,-1,-1,-1,-1,2.5,2,-0.5,0.5,0.5,0.5],
[-1,-0.5,-1,-1,-1,0,2,2,-0.5,1,-0.5,-0.5],
[-0.5,-1,-1.5,0,-1,-1,2.5,1.5,-0.5,1,0,0.5],
[0,-0.5,-1,-1,-1.5,-1.5,2,2,0.5,1,-0.5,-0.5],
[-0.5,-0.5,-0.5,-0.5,-1,-1,2.5,-0.5,-0.5,-0.5,2,1],
[-1,-1,-0.5,0,-1,-0.5,1.5,1.5,-0.5,-0.5,2,-0.5],
[1.5,-1,-1,-1,-1,-1,2,1,-0.5,1,-1,-1],
[1.5,-1,-1,-1.5,-1.5,-1,1.5,1,-1,1,1,0],
[-1,-0.5,-1,0,-2,0,2.5,0.5,-1,1,0.5,0.5],
[-1.5,-0.5,-1.5,-1,-0.5,0.5,2.5,0,0.5,1.5,-0.5,-0.5],
[-1,-1,-1.5,-0.5,-1,-0.5,2.5,0.5,1,1.5,-1,1],
[-1,-0.5,-1,-1,-2,0,2,0.5,1,1.5,-1,1],
[-0.5,-0.5,-0.5,-0.5,-0.5,-0.5,3,0,-0.5,0,0.5,1],
[-0.5,-0.5,-0.5,-0.5,-0.5,-0.5,3,0,-0.5,0.5,0,0],
[-0.5,-0.5,-0.5,-0.5,-0.5,-0.5,3.5,0.5,-0.5,0,-0.5,0],
[-1,-0.5,-1,-1,-1.5,0,3,1.5,0.5,-0.5,0,-0.5],
[-0.5,-0.5,-0.5,-0.5,-0.5,-0.5,3,1.5,0,-0.5,-0.5,-0.5],
[0.5,-0.5,-1,-1.5,-1,-0.5,3,-1,1,0.5,0.5,-0.5],
[-0.5,-1,-1,-1,-1.5,0,2.5,0.5,0,-0.5,1.5,0],
[-0.5,-1,-1.5,-1.5,-1.5,0,2.5,0.5,1,-0.5,1.5,-0.5]
];

const NS="http://www.w3.org/2000/svg";
function mk(tag,attrs,parent){const e=document.createElementNS(NS,tag);for(const k in attrs)e.setAttribute(k,attrs[k]);parent.appendChild(e);return e;}
function color(v){v=Math.max(-4,Math.min(4,v));
 if(v>=0){const c=Math.round(255*(1-v/4));return "rgb(255,"+c+","+c+")";}
 const c=Math.round(255*(1+v/4));return "rgb("+c+","+c+",255)";}

function buildRowTree(lo,hi,breaks){
  if(hi-lo===1)return lo;
  const mid=(lo+hi)/2;let best=null,bd=1e9;
  for(const b of breaks){if(b>lo&&b<hi){const d=Math.abs(b-mid);if(d<bd){bd=d;best=b;}}}
  const s=best!==null?best:Math.floor(mid);
  return [Math.sqrt(hi-lo),buildRowTree(lo,s,breaks),buildRowTree(s,hi,breaks)];
}

function drawPanel(cfg){
  const g=cfg.g;
  const nR=cfg.rows.length,nC=cfg.cols.length;
  const cw=(cfg.x1-cfg.x0)/nC,rh=(cfg.y1-cfg.y0)/nR;
  const xs=j=>cfg.x0+j*cw, ys=i=>cfg.y0+i*rh;
  const cells=mk("g",{},g);
  
  
  for(let i=0;i<nR;i++)for(let j=0;j<nC;j++){
    const r=mk("rect",{x:xs(j).toFixed(2),y:ys(i).toFixed(2),width:(cw+0.6).toFixed(2),height:(rh+0.6).toFixed(2),fill:color(cfg.vals[i][j])},cells);
    
    
  }
  const lg=mk("g",{transform:"translate("+cfg.lx+",0) scale("+cfg.sx+",1)"},g);
  
  
  for(let i=0;i<nR;i++){
    const t=mk("text",{x:0,y:(ys(i)+rh/2).toFixed(2),"font-size":cfg.fs,"dominant-baseline":"central"},lg);
    t.textContent=cfg.rows[i];
    
    
  }
  for(let j=0;j<nC;j++){
    const cx=xs(j)+cw/2;
    const t=mk("text",{transform:"translate("+cx.toFixed(2)+","+cfg.cly+") rotate(90)","font-size":cfg.cfs,"dominant-baseline":"central"},g);
    t.textContent=cfg.cols[j];
    
    
  }
  const cd=mk("g",{stroke:"#333","stroke-width":2,fill:"none"},g);
  
  
  function dc(n){
    if(typeof n==="number")return {x:xs(n)+cw/2,y:cfg.y0};
    const a=dc(n[1]),b=dc(n[2]);const y=cfg.y0-n[0]*cfg.cscale;
    mk("path",{d:"M"+a.x+","+a.y+"V"+y+"H"+b.x+"V"+b.y},cd);
    return {x:(a.x+b.x)/2,y:y};
  }
  dc(cfg.colTree);
  const rd=mk("g",{stroke:"#333","stroke-width":2,fill:"none"},g);
  
  
  const tree=buildRowTree(0,nR,cfg.breaks);
  const rsc=cfg.rdw/Math.sqrt(nR);
  function dr(n){
    if(typeof n==="number")return {x:cfg.x0-1,y:ys(n)+rh/2};
    const a=dr(n[1]),b=dr(n[2]);const x=cfg.x0-1-n[0]*rsc;
    mk("path",{d:"M"+a.x+","+a.y+"H"+x+"V"+b.y+"H"+b.x},rd);
    return {x:x,y:(a.y+b.y)/2};
  }
  dr(tree);
  const leg=mk("g",{},g);
  
  
  mk("rect",{x:cfg.legX,y:cfg.legY0,width:cfg.legW,height:cfg.legY1-cfg.legY0,fill:"url(#lg)"},leg);
  for(const v of legendTicks){
    const y=cfg.legY0+(4-v)/8*(cfg.legY1-cfg.legY0);
    const t=mk("text",{x:cfg.legX+cfg.legW+3,y:y,"font-size":cfg.legFs,"dominant-baseline":"central"},leg);
    t.textContent=String(v);
    
    
  }
}

drawPanel({g:document.getElementById("gA"),id:"panel-a",rows:rowsA,cols:colsA,vals:valsA,
  x0:360,x1:1154,y0:191,y1:3013,lx:1157,sx:0.87,fs:15,cly:3020,cfs:15,
  colTree:colTreeA,cscale:1,breaks:rowBreaksA,rdw:42,
  legX:1673,legW:10,legY0:191,legY1:346,legFs:15});
drawPanel({g:document.getElementById("gB"),id:"panel-b",rows:rowsB,cols:colsB,vals:valsB,
  x0:2269,x1:3446,y0:454,y1:2736,lx:3452,sx:0.88,fs:21,cly:2748,cfs:27,
  colTree:colTreeB,cscale:1,breaks:rowBreaksB,rdw:66,
  legX:4158,legW:14,legY0:454,legY1:683,legFs:22});
</script>
</body></html>
